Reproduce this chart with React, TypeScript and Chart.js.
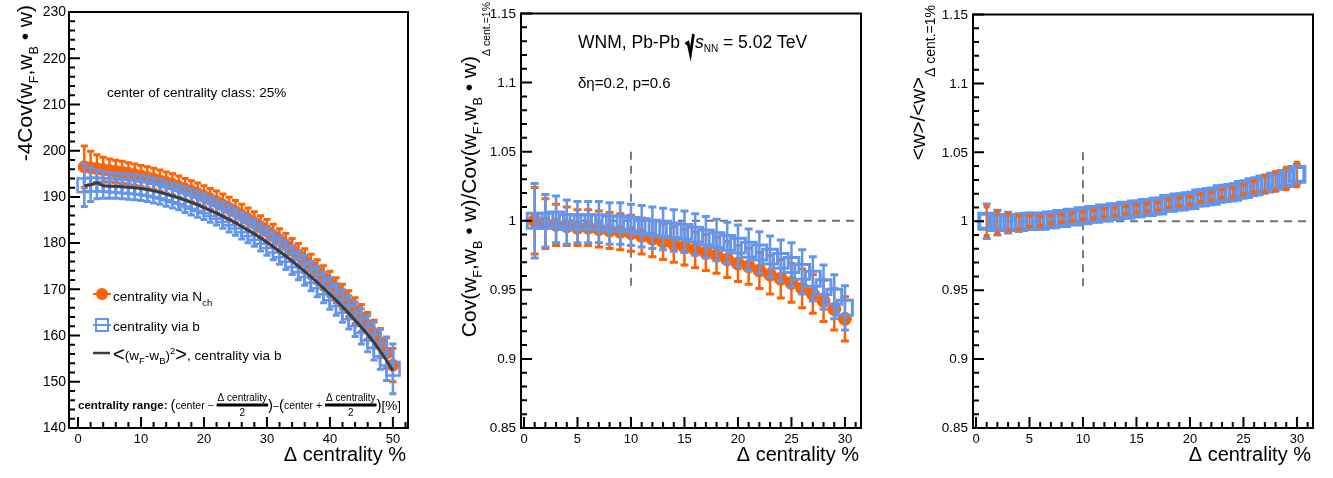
import React, { useEffect, useRef } from 'react';
import { Chart, registerables } from 'chart.js';

Chart.register(...registerables);

const H = 478;
const FONT = '"Liberation Sans", Arial, Helvetica, sans-serif';
const ORANGE = '#ff6200';
const BLUE = '#6495ed';
const DARK = '#3c3c3c';
const DASH = '#707070';

// ---------------- left panel data ----------------
const centA = [1,2,3,4,5,6,7,8,9,10,11,12,13,14,15,16,17,18,19,20,21,22,23,24,25,26,27,28,29,30,31,32,33,34,35,36,37,38,39,40,41,42,43,44,45,46,47,48,49,50];
const covNch = [196.5,196.3,196.1,195.9,195.7,195.5,195.3,195.1,194.8,194.5,
  194.2,193.9,193.5,193.1,192.7,192.2,191.7,191.2,190.7,190.1,
  189.5,188.9,188.2,187.5,186.8,186.0,185.2,184.4,183.5,182.6,
  181.6,180.6,179.6,178.5,177.4,176.2,175.0,173.8,172.5,171.2,
  169.8,168.4,166.9,165.4,163.8,162.1,160.3,158.4,156.2,153.6];
const covNchErr = [4.5,3.6,3.0,2.7,2.5,2.4,2.4,2.3,2.3,2.3,
  2.3,2.3,2.3,2.3,2.3,2.3,2.3,2.3,2.3,2.3,
  2.3,2.4,2.4,2.4,2.4,2.4,2.4,2.4,2.4,2.5,
  2.5,2.5,2.5,2.5,2.5,2.6,2.6,2.6,2.6,2.7,
  2.7,2.7,2.8,2.8,2.9,2.9,3.0,3.1,3.3,3.6];
const covB = [192.5,192.7,192.7,192.6,192.5,192.4,192.3,192.2,192.1,191.9,
  191.7,191.4,191.1,190.7,190.3,189.9,189.4,188.9,188.4,187.9,
  187.3,186.7,186.0,185.3,184.6,183.8,183.0,182.2,181.3,180.4,
  179.4,178.4,177.4,176.3,175.2,174.1,172.9,171.7,170.4,169.1,
  167.8,166.4,165.0,163.5,162.0,160.4,158.8,157.0,155.0,152.8];
const covBErr = [4.6,3.7,3.1,2.9,2.8,2.7,2.7,2.7,2.7,2.7,
  2.7,2.7,2.7,2.7,2.7,2.7,2.8,2.8,2.8,2.8,
  2.8,2.8,2.8,2.9,2.9,2.9,2.9,2.9,3.0,3.0,
  3.0,3.0,3.1,3.1,3.1,3.2,3.2,3.3,3.3,3.4,
  3.4,3.5,3.6,3.7,3.8,3.9,4.1,4.3,4.7,5.4];
const covLine = [192.4,192.6,193.1,192.4,192.3,192.3,192.2,192.1,192.0,191.8,
  191.6,191.3,191.0,190.6,190.2,189.8,189.3,188.8,188.3,187.7,
  187.1,186.5,185.8,185.1,184.4,183.6,182.8,182.0,181.1,180.2,
  179.2,178.2,177.2,176.1,175.0,173.9,172.7,171.5,170.2,168.9,
  167.6,166.2,164.8,163.3,161.8,160.2,158.5,156.6,154.6,152.4];

// ---------------- middle / right panel data ----------------
const centB = [1,2,3,4,5,6,7,8,9,10,11,12,13,14,15,16,17,18,19,20,21,22,23,24,25,26,27,28,29,30];
const ratioNch = [1.000,0.998,0.997,0.996,0.995,0.995,0.994,0.993,0.992,0.991,
  0.989,0.987,0.985,0.983,0.981,0.979,0.977,0.975,0.972,0.969,
  0.967,0.964,0.961,0.958,0.955,0.951,0.947,0.942,0.936,0.929];
const ratioNchErr = [0.024,0.018,0.015,0.014,0.013,0.013,0.013,0.013,0.013,0.013,
  0.013,0.013,0.013,0.013,0.013,0.013,0.013,0.013,0.013,0.013,
  0.013,0.013,0.014,0.014,0.014,0.014,0.014,0.015,0.015,0.016];
const ratioB = [1.000,1.000,1.001,0.999,0.999,0.999,0.999,0.998,0.998,0.997,
  0.996,0.995,0.994,0.993,0.992,0.990,0.988,0.986,0.984,0.982,
  0.979,0.977,0.974,0.971,0.968,0.963,0.958,0.952,0.945,0.937];
const ratioBErr = [0.027,0.019,0.017,0.016,0.015,0.015,0.015,0.015,0.015,0.015,
  0.015,0.015,0.015,0.015,0.015,0.015,0.015,0.015,0.015,0.015,
  0.015,0.015,0.015,0.015,0.016,0.016,0.016,0.016,0.016,0.016];
const wB = [1.000,0.999,0.999,0.999,1.000,1.000,1.001,1.002,1.003,1.004,
  1.005,1.006,1.007,1.008,1.009,1.010,1.011,1.013,1.014,1.015,
  1.017,1.018,1.020,1.021,1.023,1.025,1.027,1.029,1.031,1.034];
const wBErr = [0.0125,0.009,0.0075,0.0065,0.006,0.0058,0.0057,0.0056,0.0056,0.0056,
  0.0056,0.0056,0.0056,0.0056,0.0057,0.0057,0.0058,0.0058,0.0059,0.006,
  0.006,0.0061,0.0062,0.0063,0.0064,0.0065,0.0066,0.0068,0.007,0.0072];
const wNch = [1.000,0.999,0.999,0.999,1.000,1.000,1.001,1.002,1.003,1.004,
  1.005,1.006,1.007,1.008,1.009,1.010,1.011,1.013,1.014,1.015,
  1.017,1.018,1.020,1.021,1.023,1.025,1.027,1.029,1.031,1.034];
const wNchErr = [0.0105,0.008,0.0065,0.005,0.004,0.0032,0.003,0.0028,0.0028,0.0028,
  0.0028,0.0028,0.0028,0.0028,0.0028,0.0028,0.0028,0.0028,0.0028,0.0028,
  0.0028,0.0028,0.003,0.0032,0.0035,0.004,0.006,0.007,0.008,0.0087];

// ---------------- axis ticks ----------------
const xTicksA = [0, 10, 20, 30, 40, 50];
const xLabelsA = ['0', '10', '20', '30', '40', '50'];
const yTicksA = [140, 150, 160, 170, 180, 190, 200, 210, 220, 230];
const yLabelsA = ['140', '150', '160', '170', '180', '190', '200', '210', '220', '230'];
const xTicksB = [0, 5, 10, 15, 20, 25, 30];
const xLabelsB = ['0', '5', '10', '15', '20', '25', '30'];
const yTicksB = [0.85, 0.9, 0.95, 1.0, 1.05, 1.1, 1.15];
const yLabelsB = ['0.85', '0.9', '0.95', '1', '1.05', '1.1', '1.15'];

// ---------------- text helpers ----------------
type Seg = { t: string; s: number; dy?: number; st?: string };
const fnt = (s: number, st = '') => `${st} ${s}px ${FONT}`.trim();

function richWidth(ctx: CanvasRenderingContext2D, segs: Seg[]) {
  let w = 0;
  for (const g of segs) { ctx.font = fnt(g.s, g.st); w += ctx.measureText(g.t).width; }
  return w;
}
function drawRich(ctx: CanvasRenderingContext2D, segs: Seg[], x: number, y: number, align: 'left' | 'right' = 'left') {
  let cx = align === 'right' ? x - richWidth(ctx, segs) : x;
  ctx.textAlign = 'left';
  ctx.textBaseline = 'alphabetic';
  for (const g of segs) {
    ctx.font = fnt(g.s, g.st);
    ctx.fillText(g.t, cx, y + (g.dy || 0));
    cx += ctx.measureText(g.t).width;
  }
  return cx;
}
function drawRotatedTitle(ctx: CanvasRenderingContext2D, segs: Seg[], baseX: number, endY: number) {
  ctx.save();
  ctx.translate(baseX, endY);
  ctx.rotate(-Math.PI / 2);
  drawRich(ctx, segs, 0, 0, 'right');
  ctx.restore();
}
function txt(ctx: CanvasRenderingContext2D, t: string, x: number, y: number, s: number, st = '') {
  ctx.font = fnt(s, st);
  ctx.textAlign = 'left';
  ctx.textBaseline = 'alphabetic';
  ctx.fillText(t, x, y);
  return ctx.measureText(t).width;
}
function frac(ctx: CanvasRenderingContext2D, x: number, by: number, num: string, den: string, s: number) {
  ctx.font = fnt(s);
  const w = ctx.measureText(num).width + 2;
  ctx.textAlign = 'center';
  ctx.textBaseline = 'alphabetic';
  ctx.fillText(num, x + w / 2, by - 8);
  ctx.fillText(den, x + w / 2, by + 7);
  ctx.fillRect(x, by - 5.5, w, 3);
  ctx.textAlign = 'left';
  return w;
}

// ---------------- panel spec ----------------
type Spec = {
  left: number; width: number;
  area: { l: number; r: number; t: number; b: number };
  xMin: number; xMax: number; yMin: number; yMax: number;
  xTicks: number[]; xLabels: string[]; xMinor: number;
  yTicks: number[]; yLabels: string[]; yMinor: number;
  yLabelSize: number; yLabelGap: number;
  datasets: any[];
  under?: (ctx: CanvasRenderingContext2D, chart: any) => void;
  decorate: (ctx: CanvasRenderingContext2D, chart: any) => void;
};

function drawErrors(chart: any, index: number) {
  const ds: any = chart.data.datasets[index];
  if (!ds.errY) return;
  const ctx = chart.ctx, xs = chart.scales.x, ys = chart.scales.y;
  ctx.save();
  ctx.strokeStyle = ds.errColor;
  ds.data.forEach((p: any, i: number) => {
    const e = ds.errY[i];
    const px = xs.getPixelForValue(p.x);
    const t = ys.getPixelForValue(p.y + e);
    const b = ys.getPixelForValue(p.y - e);
    ctx.lineWidth = ds.errLine;
    ctx.beginPath(); ctx.moveTo(px, t); ctx.lineTo(px, b); ctx.stroke();
    ctx.lineWidth = ds.capLine;
    ctx.beginPath();
    ctx.moveTo(px - ds.capHalf, t); ctx.lineTo(px + ds.capHalf, t);
    ctx.moveTo(px - ds.capHalf, b); ctx.lineTo(px + ds.capHalf, b);
    ctx.stroke();
  });
  ctx.restore();
}

function framePlugin(spec: Spec) {
  return {
    id: 'rootFrame',
    beforeDatasetsDraw(chart: any) {
      if (!spec.under) return;
      const ctx = chart.ctx;
      ctx.save(); ctx.translate(-spec.left, 0); spec.under(ctx, chart); ctx.restore();
    },
    beforeDatasetDraw(chart: any, args: any) { drawErrors(chart, args.index); },
    afterDraw(chart: any) {
      const ctx: CanvasRenderingContext2D = chart.ctx;
      const { left, right, top, bottom } = chart.chartArea;
      const xs = chart.scales.x, ys = chart.scales.y;
      ctx.save();
      ctx.strokeStyle = '#000';
      ctx.fillStyle = '#000';
      ctx.lineWidth = 2;
      ctx.strokeRect(left, top, right - left, bottom - top);
      ctx.beginPath();
      const ky0 = Math.ceil(spec.yMin / spec.yMinor - 1e-6);
      for (let k = ky0; k * spec.yMinor <= spec.yMax + 1e-9; k++) {
        const v = k * spec.yMinor;
        const major = spec.yTicks.some(m => Math.abs(m - v) < spec.yMinor / 10);
        const py = ys.getPixelForValue(v);
        ctx.moveTo(left, py); ctx.lineTo(left + (major ? 11 : 6), py);
      }
      const kx0 = Math.ceil(spec.xMin / spec.xMinor - 1e-6);
      for (let k = kx0; k * spec.xMinor <= spec.xMax + 1e-9; k++) {
        const v = k * spec.xMinor;
        const major = spec.xTicks.some(m => Math.abs(m - v) < spec.xMinor / 10);
        const px = xs.getPixelForValue(v);
        ctx.moveTo(px, bottom); ctx.lineTo(px, bottom - (major ? 11 : 6));
      }
      ctx.stroke();
      ctx.font = fnt(spec.yLabelSize);
      ctx.textAlign = 'right';
      ctx.textBaseline = 'middle';
      spec.yTicks.forEach((v, i) => ctx.fillText(spec.yLabels[i], left - spec.yLabelGap, ys.getPixelForValue(v) + 0.5));
      ctx.font = fnt(13);
      ctx.textAlign = 'center';
      spec.xTicks.forEach((v, i) => ctx.fillText(spec.xLabels[i], xs.getPixelForValue(v), bottom + 11));
      // x title
      ctx.font = fnt(20);
      ctx.textAlign = 'right';
      ctx.textBaseline = 'alphabetic';
      ctx.fillText('Δ centrality %', right - 2, 461);
      ctx.translate(-spec.left, 0);
      spec.decorate(ctx, chart);
      ctx.restore();
    },
  };
}

function Panel({ spec }: { spec: Spec }) {
  const ref = useRef<HTMLCanvasElement>(null);
  useEffect(() => {
    const a = spec.area;
    const chart = new Chart(ref.current as HTMLCanvasElement, {
      type: 'scatter',
      data: { datasets: spec.datasets },
      options: {
        animation: false,
        responsive: false,
        events: [],
        layout: { padding: { left: a.l - spec.left, right: spec.left + spec.width - a.r, top: a.t, bottom: H - a.b } },
        plugins: { legend: { display: false }, tooltip: { enabled: false } },
        scales: {
          x: { type: 'linear', min: spec.xMin, max: spec.xMax, display: false },
          y: { type: 'linear', min: spec.yMin, max: spec.yMax, display: false },
        },
      },
      plugins: [framePlugin(spec)],
    } as any);
    return () => chart.destroy();
  }, [spec]);
  return (
    <canvas ref={ref} width={spec.width} height={H}
      style={{ position: 'absolute', left: spec.left, top: 0, width: spec.width, height: H }} />
  );
}

const pts = (xs: number[], ys: number[]) => ys.map((y, i) => ({ x: xs[i], y }));

function dashedRefs(ctx: CanvasRenderingContext2D, chart: any, left: number) {
  const xs = chart.scales.x, ys = chart.scales.y;
  ctx.save();
  ctx.translate(left, 0);
  ctx.strokeStyle = DASH;
  ctx.lineWidth = 1.8;
  ctx.setLineDash([8, 6]);
  ctx.beginPath();
  ctx.moveTo(xs.getPixelForValue(0), ys.getPixelForValue(1));
  ctx.lineTo(xs.getPixelForValue(31), ys.getPixelForValue(1));
  ctx.moveTo(xs.getPixelForValue(10), ys.getPixelForValue(1.05));
  ctx.lineTo(xs.getPixelForValue(10), ys.getPixelForValue(0.95));
  ctx.stroke();
  ctx.restore();
}

const specA: Spec = {
  left: 0, width: 444,
  area: { l: 69, r: 408, t: 6, b: 428 },
  xMin: -1.43, xMax: 52.4, yMin: 140, yMax: 230,
  xTicks: xTicksA, xLabels: xLabelsA, xMinor: 2,
  yTicks: yTicksA, yLabels: yLabelsA, yMinor: 2,
  yLabelSize: 14, yLabelGap: 3,
  datasets: [
    { label: '<(wF-wB)^2>, centrality via b', data: pts(centA, covLine), showLine: true, borderColor: DARK, borderWidth: 3, pointRadius: 0, tension: 0, fill: false, order: 1 },
    { label: 'centrality via b', data: pts(centA, covB), pointStyle: 'rect', pointRadius: 9.5, pointBackgroundColor: 'rgba(0,0,0,0)', pointBorderColor: BLUE, pointBorderWidth: 2.5, errY: covBErr, errColor: BLUE, errLine: 2.5, capLine: 3, capHalf: 3.5, order: 2 },
    { label: 'centrality via Nch', data: pts(centA, covNch), pointStyle: 'circle', pointRadius: 6, pointBackgroundColor: ORANGE, pointBorderColor: ORANGE, pointBorderWidth: 1, errY: covNchErr, errColor: ORANGE, errLine: 2.5, capLine: 3, capHalf: 3.5, order: 3 },
  ],
  decorate: (ctx) => {
    ctx.fillStyle = '#000';
    drawRotatedTitle(ctx, [
      { t: '-4Cov(w', s: 21 }, { t: 'F', s: 12.5, dy: 6 }, { t: ',w', s: 21 }, { t: 'B', s: 12.5, dy: 6 }, { t: ' • w)', s: 21 },
    ], 32, 5);
    txt(ctx, 'center of centrality class: 25%', 107, 97, 13.5);
    // legend
    ctx.strokeStyle = ORANGE; ctx.lineWidth = 2;
    ctx.beginPath(); ctx.moveTo(93, 294); ctx.lineTo(111, 294); ctx.stroke();
    ctx.fillStyle = ORANGE;
    ctx.beginPath(); ctx.arc(102, 294, 6, 0, Math.PI * 2); ctx.fill();
    ctx.strokeStyle = BLUE; ctx.lineWidth = 2;
    ctx.beginPath(); ctx.moveTo(93, 325); ctx.lineTo(111, 325); ctx.stroke();
    ctx.strokeRect(96, 319, 12, 12);
    ctx.strokeStyle = DARK; ctx.lineWidth = 2.5;
    ctx.beginPath(); ctx.moveTo(93, 353); ctx.lineTo(110, 353); ctx.stroke();
    ctx.fillStyle = '#000';
    drawRich(ctx, [{ t: 'centrality via N', s: 13.6 }, { t: 'ch', s: 9.5, dy: 5 }], 113, 301);
    drawRich(ctx, [{ t: 'centrality via b', s: 13.6 }], 113, 331);
    drawRich(ctx, [
      { t: '<', s: 20, dy: 1 }, { t: '(w', s: 13.6 }, { t: 'F', s: 9.5, dy: 4 }, { t: '-w', s: 13.6 }, { t: 'B', s: 9.5, dy: 4 },
      { t: ')', s: 13.6 }, { t: '2', s: 9.5, dy: -6 }, { t: '>', s: 20, dy: 1 }, { t: ', centrality via b', s: 13.6 },
    ], 113, 360);
    // centrality range formula
    let x = 78; const by = 409;
    x += txt(ctx, 'centrality range:', x, by, 11.5, 'bold') + 3;
    x += txt(ctx, '(', x, by + 1, 15);
    x += txt(ctx, 'center − ', x, by, 10.5);
    x += frac(ctx, x, by, 'Δ centrality', '2', 10);
    x += txt(ctx, ')', x, by + 1, 15);
    x += txt(ctx, '–', x, by, 10.5);
    x += txt(ctx, '(', x, by + 1, 15);
    x += txt(ctx, 'center + ', x, by, 10.5);
    x += frac(ctx, x, by, 'Δ centrality', '2', 10);
    x += txt(ctx, ')', x, by + 1, 15);
    txt(ctx, '[%]', x, by + 1, 13.5);
  },
};

const specB: Spec = {
  left: 444, width: 444,
  area: { l: 521, r: 861, t: 6, b: 428 },
  xMin: -0.28, xMax: 31.5, yMin: 0.85, yMax: 1.15,
  xTicks: xTicksB, xLabels: xLabelsB, xMinor: 1,
  yTicks: yTicksB, yLabels: yLabelsB, yMinor: 0.01,
  yLabelSize: 13.5, yLabelGap: 5,
  datasets: [
    { label: 'centrality via b', data: pts(centB, ratioB), pointStyle: 'rect', pointRadius: 10.5, pointBackgroundColor: 'rgba(0,0,0,0)', pointBorderColor: BLUE, pointBorderWidth: 3, errY: ratioBErr, errColor: BLUE, errLine: 2.5, capLine: 3, capHalf: 4, order: 1 },
    { label: 'centrality via Nch', data: pts(centB, ratioNch), pointStyle: 'circle', pointRadius: 6.5, pointBackgroundColor: ORANGE, pointBorderColor: ORANGE, pointBorderWidth: 1, errY: ratioNchErr, errColor: ORANGE, errLine: 2.5, capLine: 3, capHalf: 4, order: 2 },
  ],
  under: (ctx, chart) => dashedRefs(ctx, chart, 444),
  decorate: (ctx) => {
    ctx.fillStyle = '#000';
    drawRotatedTitle(ctx, [
      { t: 'Cov(w', s: 21 }, { t: 'F', s: 12.5, dy: 6 }, { t: ',w', s: 21 }, { t: 'B', s: 12.5, dy: 6 }, { t: ' • w)/Cov(w', s: 21 },
      { t: 'F', s: 12.5, dy: 6 }, { t: ',w', s: 21 }, { t: 'B', s: 12.5, dy: 6 }, { t: ' • w)', s: 21 }, { t: 'Δ cent.=1%', s: 10.5, dy: 14 },
    ], 476, 2);
    let x = 578; const by = 48;
    x += txt(ctx, 'WNM, Pb-Pb ', x, by, 17.5);
    ctx.strokeStyle = '#000'; ctx.lineWidth = 2.8; ctx.lineJoin = 'miter';
    ctx.beginPath();
    ctx.moveTo(x + 0.5, by - 4); ctx.lineTo(x + 3, by - 5.5); ctx.lineTo(x + 5.5, by + 6); ctx.lineTo(x + 8.5, by - 14);
    ctx.stroke();
    x += 10;
    x += txt(ctx, 's', x, by, 17.5, 'italic');
    x += txt(ctx, 'NN', x, by + 4, 10);
    txt(ctx, ' = 5.02 TeV', x, by, 17.5);
    txt(ctx, 'δη=0.2, p=0.6', 578, 88, 15);
  },
};

const specC: Spec = {
  left: 888, width: 445,
  area: { l: 973, r: 1313, t: 6, b: 428 },
  xMin: -0.28, xMax: 31.5, yMin: 0.85, yMax: 1.15,
  xTicks: xTicksB, xLabels: xLabelsB, xMinor: 1,
  yTicks: yTicksB, yLabels: yLabelsB, yMinor: 0.01,
  yLabelSize: 13.5, yLabelGap: 5,
  datasets: [
    { label: 'centrality via Nch', data: pts(centB, wNch), pointStyle: 'circle', pointRadius: 0, errY: wNchErr, errColor: ORANGE, errLine: 1.2, capLine: 3.5, capHalf: 3, order: 1 },
    { label: 'centrality via b', data: pts(centB, wB), pointStyle: 'rect', pointRadius: 10.5, pointBackgroundColor: 'rgba(0,0,0,0)', pointBorderColor: BLUE, pointBorderWidth: 4, errY: wBErr, errColor: BLUE, errLine: 2.5, capLine: 3, capHalf: 4, order: 2 },
  ],
  under: (ctx, chart) => dashedRefs(ctx, chart, 888),
  decorate: (ctx) => {
    ctx.fillStyle = '#000';
    drawRotatedTitle(ctx, [{ t: '<w>/<w>', s: 20.5 }, { t: 'Δ cent.=1%', s: 14, dy: 10 }], 925, 5);
  },
};

export default function App() {
  return (
    <div style={{ position: 'fixed', left: 0, top: 0, width: 1333, height: H, background: '#fff', overflow: 'hidden' }}>
      <Panel spec={specA} />
      <Panel spec={specB} />
      <Panel spec={specC} />
    </div>
  );
}
